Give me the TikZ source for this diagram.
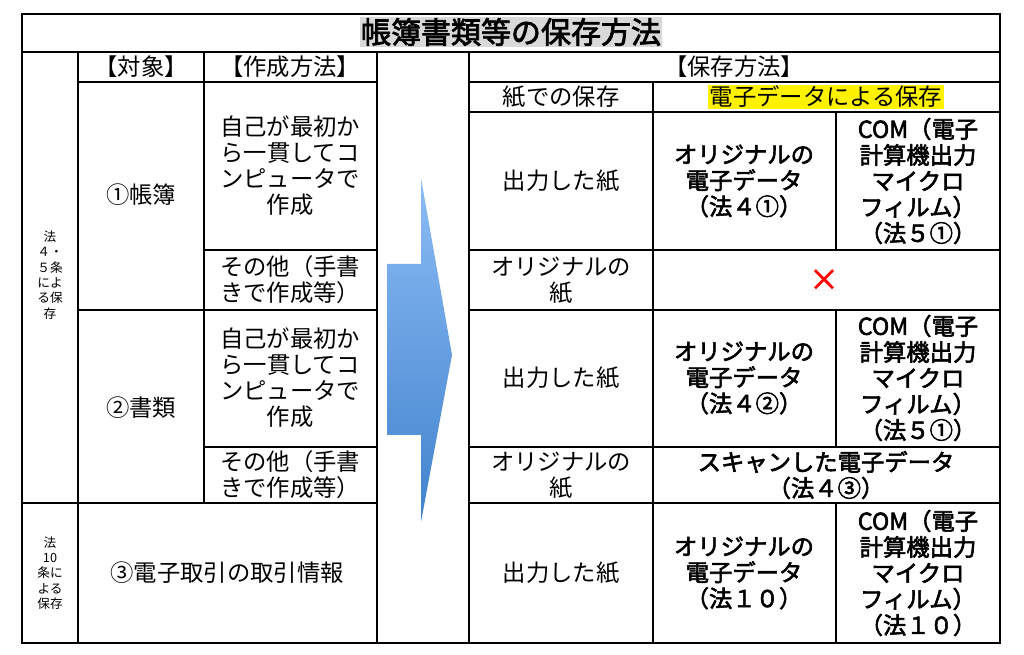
\documentclass[tikz,border=0pt]{standalone}
\usepackage{fontspec}
\setmainfont{Noto Sans CJK JP}
\newfontfamily\jpb{Noto Sans CJK JP}[FakeBold=2.5]
\begin{document}
\begin{tikzpicture}[x=0.75pt,y=-0.75pt,
  tl/.style={line width=1pt,black},
  t/.style={align=center,font=\fontsize{17.5}{19.5}\selectfont,inner sep=0pt},
  tb/.style={t,font=\fontsize{17.5}{19.5}\jpb},
  ts/.style={align=center,font=\fontsize{9.5}{11.5}\selectfont,inner sep=0pt}]
\useasboundingbox (0,0) rectangle (1024,655);
% arrow
\shade[top color={rgb,255:red,140;green,188;blue,245}, bottom color={rgb,255:red,65;green,130;blue,205}]
 (421,178) -- (452,355) -- (421,522) -- (421,435) -- (387,435) -- (387,264) -- (421,264) -- cycle;
% title
\node[fill=black!15,inner sep=1pt,font=\fontsize{22.5}{25}\jpb] (title) at (511,32) {帳簿書類等の保存方法};
% grid
\draw[tl] (22,14) rectangle (1000,643);
\draw[tl] (22,52) -- (1000,52);
\foreach \x in {78,377,469} \draw[tl] (\x,52) -- (\x,643);
\draw[tl] (204,52) -- (204,503);
\draw[tl] (78,82) -- (377,82);
\draw[tl] (204,250) -- (377,250);
\draw[tl] (22,503) -- (377,503);
\draw[tl] (78,310) -- (377,310);
\draw[tl] (204,447) -- (377,447);
\draw[tl] (469,82) -- (1000,82);
\foreach \y in {112,250,310,447,503} \draw[tl] (469,\y) -- (1000,\y);
\draw[tl] (653,82) -- (653,643);
\draw[tl] (836,112) -- (836,250);
\draw[tl] (836,310) -- (836,447);
\draw[tl] (836,503) -- (836,643);
% left texts
\node[ts] (l1) at (50,275) {法\\４・\\５条\\によ\\る保\\存};
\node[ts] (l2) at (50,573) {法\\10\\条に\\よる\\保存};
\node[t] (h1) at (141,67) {【対象】};
\node[t] (h2) at (290,67) {【作成方法】};
\node[t] (c1) at (141,195) {①帳簿};
\node[t] (c2) at (141,408) {②書類};
\node[t] (c3) at (227,573) {③電子取引の取引情報};
\node[t] (m1) at (290,166) {自己が最初か\\ら一貫してコ\\ンピュータで\\作成};
\node[t] (m2) at (290,280) {その他（手書\\きで作成等）};
\node[t] (m3) at (290,378) {自己が最初か\\ら一貫してコ\\ンピュータで\\作成};
\node[t] (m4) at (290,475) {その他（手書\\きで作成等）};
% right texts
\node[t] (r0) at (734,67) {【保存方法】};
\node[t] (r1) at (561,97) {紙での保存};
\node[t,fill=yellow,inner sep=1pt] (r2) at (826,97) {電子データによる保存};
\node[t] (p1) at (561,181) {出力した紙};
\node[tb] (e1) at (744,181) {オリジナルの\\電子データ\\（法４①）};
\node[tb] (f1) at (918,181) {COM（電子\\計算機出力\\マイクロ\\フィルム）\\（法５①）};
\node[t] (p2) at (561,280) {オリジナルの\\紙};
\node[text=red,font=\fontsize{22}{24}\jpb,inner sep=0pt] (x) at (824,280) {×};
\node[t] (p3) at (561,378) {出力した紙};
\node[tb] (e3) at (744,378) {オリジナルの\\電子データ\\（法４②）};
\node[tb] (f3) at (918,378) {COM（電子\\計算機出力\\マイクロ\\フィルム）\\（法５①）};
\node[t] (p4) at (561,475) {オリジナルの\\紙};
\node[tb] (s4) at (826,475) {スキャンした電子データ\\（法４③）};
\node[t] (p5) at (561,573) {出力した紙};
\node[tb] (e5) at (744,573) {オリジナルの\\電子データ\\（法１０）};
\node[tb] (f5) at (918,573) {COM（電子\\計算機出力\\マイクロ\\フィルム）\\（法１０）};
\end{tikzpicture}
\end{document}
